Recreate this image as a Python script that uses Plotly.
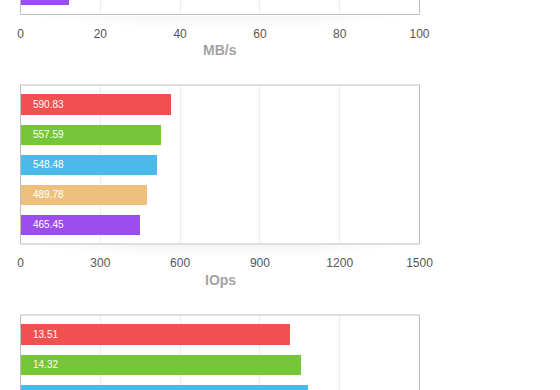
import plotly.graph_objects as go

W, H = 560, 390

# ---- data (bar lengths; labels as printed) ----
positions = [0, 1, 2, 3, 4]
colors = ["#F05050", "#76C63A", "#4DB9EB", "#EDC17C", "#9B4DED"]

mbps_values = [None, None, None, None, 12]          # only the last bar is visible
mbps_labels = [None, None, None, None, None]
iops_values = [564, 527, 512, 474, 448]
iops_labels = ["590.83", "557.59", "548.48", "489.78", "465.45"]
third_values = [13.48, 14.03, 14.38, None, None]    # bottom chart, partly visible
third_labels = ["13.51", "14.32", None, None, None]

mbps_ticks = [0, 20, 40, 60, 80, 100]
iops_ticks = [0, 300, 600, 900, 1200, 1500]
third_ticks = [0, 4, 8, 12, 16, 20]

# ---- layout helpers (pixel -> paper) ----
def yd(px):
    return 1 - px / H

XDOM = [20.5 / W, 419.5 / W]
PX_PER_CAT = 30.0

panels = [
    dict(vals=mbps_values, labels=mbps_labels, ticks=mbps_ticks, top=0, bottom=14.5,
         title="MB/s", showticks=True, frame=("l", "r", "b")),
    dict(vals=iops_values, labels=iops_labels, ticks=iops_ticks, top=85, bottom=244,
         title="IOps", showticks=True, frame=("l", "r", "b", "t")),
    dict(vals=third_values, labels=third_labels, ticks=third_ticks, top=315, bottom=390,
         title=None, showticks=False, frame=("l", "r", "t")),
]

fig = go.Figure()
shapes = []
annotations = []
FRAME = "#bdbdbd"
FONT = "Liberation Sans, Arial, sans-serif"

for i, p in enumerate(panels):
    n = i + 1
    xa = "x" if n == 1 else f"x{n}"
    ya = "y" if n == 1 else f"y{n}"
    height_px = p["bottom"] - p["top"]
    if i == 0:
        r_bottom = 4.65
        r_top = r_bottom - height_px / PX_PER_CAT
    else:
        r_top = -0.65
        r_bottom = r_top + height_px / PX_PER_CAT

    fig.add_trace(go.Bar(
        x=p["vals"], y=positions, orientation="h",
        marker=dict(color=colors, line=dict(width=0)),
        width=0.667, xaxis=xa, yaxis=ya, showlegend=False, hoverinfo="skip",
    ))

    axkey = "xaxis" if n == 1 else f"xaxis{n}"
    aykey = "yaxis" if n == 1 else f"yaxis{n}"
    fig.update_layout(**{
        axkey: dict(
            domain=XDOM, range=[p["ticks"][0], p["ticks"][-1]], anchor=ya,
            tickvals=p["ticks"], ticktext=[str(t) for t in p["ticks"]],
            showgrid=True, gridcolor="#ececec", gridwidth=1, zeroline=False,
            showline=False, ticks="outside" if p["showticks"] else "", ticklen=8,
            tickcolor="rgba(0,0,0,0)",
            showticklabels=p["showticks"], automargin=False,
            tickfont=dict(size=12, color="#555555", family=FONT),
            fixedrange=True,
        ),
        aykey: dict(
            domain=[max(0, yd(p["bottom"])), min(1, yd(p["top"]))],
            range=[r_bottom, r_top], anchor=xa, automargin=False,
            showgrid=False, zeroline=False, showline=False, showticklabels=False,
            ticks="", fixedrange=True,
        ),
    })

    xdref = f"{xa} domain"
    ydref = f"{ya} domain"
    # soft shadow under the bottom border
    if "b" in p["frame"]:
        for k in range(10):
            inset = 0.035 * k
            h = 2 + 1.2 * k
            shapes.append(dict(type="rect", xref=xdref, yref=ydref,
                               x0=-0.03 + inset, x1=1.0 - inset * 0.8,
                               ysizemode="pixel", yanchor=0,
                               y0=-1, y1=-h, line=dict(width=0),
                               fillcolor="rgba(0,0,0,0.005)", layer="below"))
    edge = dict(l=(0, 0, 0, 1), r=(1, 1, 0, 1), b=(0, 1, 0, 0), t=(0, 1, 1, 1))
    for side in p["frame"]:
        x0, x1, y0, y1 = edge[side]
        if side in ("l", "r"):
            if i == 0:
                y1 = 1.5
            if i == 2:
                y0 = -0.5
        shapes.append(dict(type="line", xref=xdref, yref=ydref, x0=x0, x1=x1, y0=y0, y1=y1,
                           line=dict(color=FRAME, width=1)))

    for v, lab, pos in zip(p["vals"], p["labels"], positions):
        if v is None or lab is None:
            continue
        annotations.append(dict(x=0, y=pos, xref=xa, yref=ya, text=lab, showarrow=False,
                                xanchor="left", yanchor="middle", xshift=10,
                                font=dict(size=10, color="white", family=FONT)))
    if p["title"]:
        annotations.append(dict(x=0.5, y=0, xref=xdref, yref=ydref, text=f"<b>{p['title']}</b>",
                                showarrow=False, xanchor="center", yanchor="middle", yshift=-36,
                                font=dict(size=14, color="#a3a3a3", family=FONT)))

fig.update_layout(
    width=W, height=H, margin=dict(l=0, r=0, t=0, b=0, autoexpand=False),
    paper_bgcolor="white", plot_bgcolor="white",
    shapes=shapes, annotations=annotations, bargap=0,
)

fig.write_html(
    "out.html",
    config={"displayModeBar": False, "responsive": False},
    post_script="document.body.style.margin='0';document.body.style.overflow='hidden';",
)
